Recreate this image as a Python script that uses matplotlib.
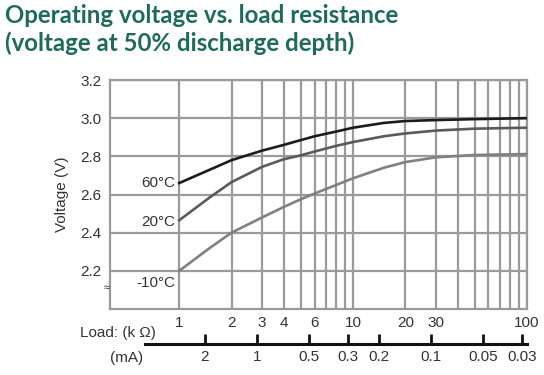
import matplotlib
matplotlib.use('Agg')
import matplotlib.pyplot as plt

# load resistance (kOhm) and voltage at 50% depth of discharge
load_k = [1, 1.5, 2, 3, 4, 5, 6, 8, 10, 15, 20, 30, 50, 100]
v_60 = [2.66, 2.73, 2.78, 2.83, 2.86, 2.885, 2.905, 2.93, 2.95, 2.975, 2.985, 2.99, 2.995, 3.0]
v_20 = [2.465, 2.585, 2.665, 2.745, 2.785, 2.805, 2.825, 2.855, 2.875, 2.905, 2.92, 2.935, 2.945, 2.95]
v_m10 = [2.20, 2.32, 2.40, 2.48, 2.535, 2.575, 2.605, 2.65, 2.685, 2.74, 2.77, 2.795, 2.807, 2.812]
curve_names = ['60°C', '20°C', '-10°C']

x_ticks = [1, 2, 3, 4, 6, 10, 20, 30, 100]
y_ticks = [2.2, 2.4, 2.6, 2.8, 3.0, 3.2]
ma_ticks = [2, 1, 0.5, 0.3, 0.2, 0.1, 0.05, 0.03]
ma_labels = ['2', '1', '0.5', '0.3', '0.2', '0.1', '0.05', '0.03']
ref_volt = 2.8  # kOhm -> mA conversion

plt.rcParams['font.family'] = ['Liberation Sans Narrow', 'Liberation Sans', 'DejaVu Sans']

fig = plt.figure(figsize=(5.44, 3.75), dpi=100)
ax = fig.add_axes([110/544, 1-309/375, 417/544, 229/375])

grid_c = '#9a9a9a'
ax.set_xscale('log')
ax.set_xlim(0.40, 100)
ax.set_ylim(2.0, 3.2)

# grid
for v in list(range(1, 10)) + list(range(10, 101, 10)):
    ax.axvline(v, color=grid_c, lw=1.6, zorder=1)
for v in y_ticks:
    ax.axhline(v, color=grid_c, lw=1.6, zorder=1)
for s in ax.spines.values():
    s.set_color(grid_c)
    s.set_linewidth(1.6)

ax.plot(load_k, v_60, color='#1c1c1c', lw=1.9, zorder=3)
ax.plot(load_k, v_20, color='#5a5a5a', lw=1.9, zorder=3)
ax.plot(load_k, v_m10, color='#808080', lw=1.9, zorder=3)

ax.text(0.95, v_60[0], curve_names[0], ha='right', va='center', fontsize=11, color='#333333')
ax.text(0.95, v_20[0] - 0.01, curve_names[1], ha='right', va='center', fontsize=11, color='#333333')
ax.text(0.95, v_m10[0] - 0.065, curve_names[2], ha='right', va='center', fontsize=11, color='#333333')

ax.minorticks_off()
ax.set_xticks(x_ticks)
ax.set_xticklabels([str(t) for t in x_ticks])
ax.set_yticks(y_ticks)
ax.set_yticklabels(['%.1f' % t for t in y_ticks])
ax.tick_params(length=0, labelsize=11, labelcolor='#333333')
ax.tick_params(axis='x', pad=5)
ax.tick_params(axis='y', pad=6)
ax.set_ylabel('Voltage (V)', fontsize=11, color='#333333', labelpad=8)

ax.text(-0.008, 0.09, '≈', transform=ax.transAxes, fontsize=8, ha='center', va='center', color='#333333')

# current scale under the load axis
sec = ax.secondary_xaxis(-0.155, functions=(lambda k: ref_volt / k, lambda m: ref_volt / m))
sec.set_xticks(ma_ticks)
sec.set_xticklabels(ma_labels)
sec.minorticks_off()
sec.tick_params(direction='in', length=7, width=2, color='#111111', labelsize=11,
                labelcolor='#333333', pad=4)
sec.spines['bottom'].set_linewidth(2.2)
sec.spines['bottom'].set_color('#111111')
sec.spines['bottom'].set_bounds(4.4, 0.028)

fig.text(80/544, 1-333/375, 'Load: (k Ω)', fontsize=11, color='#333333', ha='left', va='center')
fig.text(143/544, 1-358/375, '(mA)', fontsize=11, color='#333333', ha='right', va='center')

fig.text(5/544, 1-4/375, 'Operating voltage vs. load resistance\n(voltage at 50% discharge depth)',
         fontsize=17.3, fontweight='bold', color='#1e6b5b', ha='left', va='top',
         family=['Lato', 'DejaVu Sans'], linespacing=1.22)

fig.savefig('out.png', dpi=100)
